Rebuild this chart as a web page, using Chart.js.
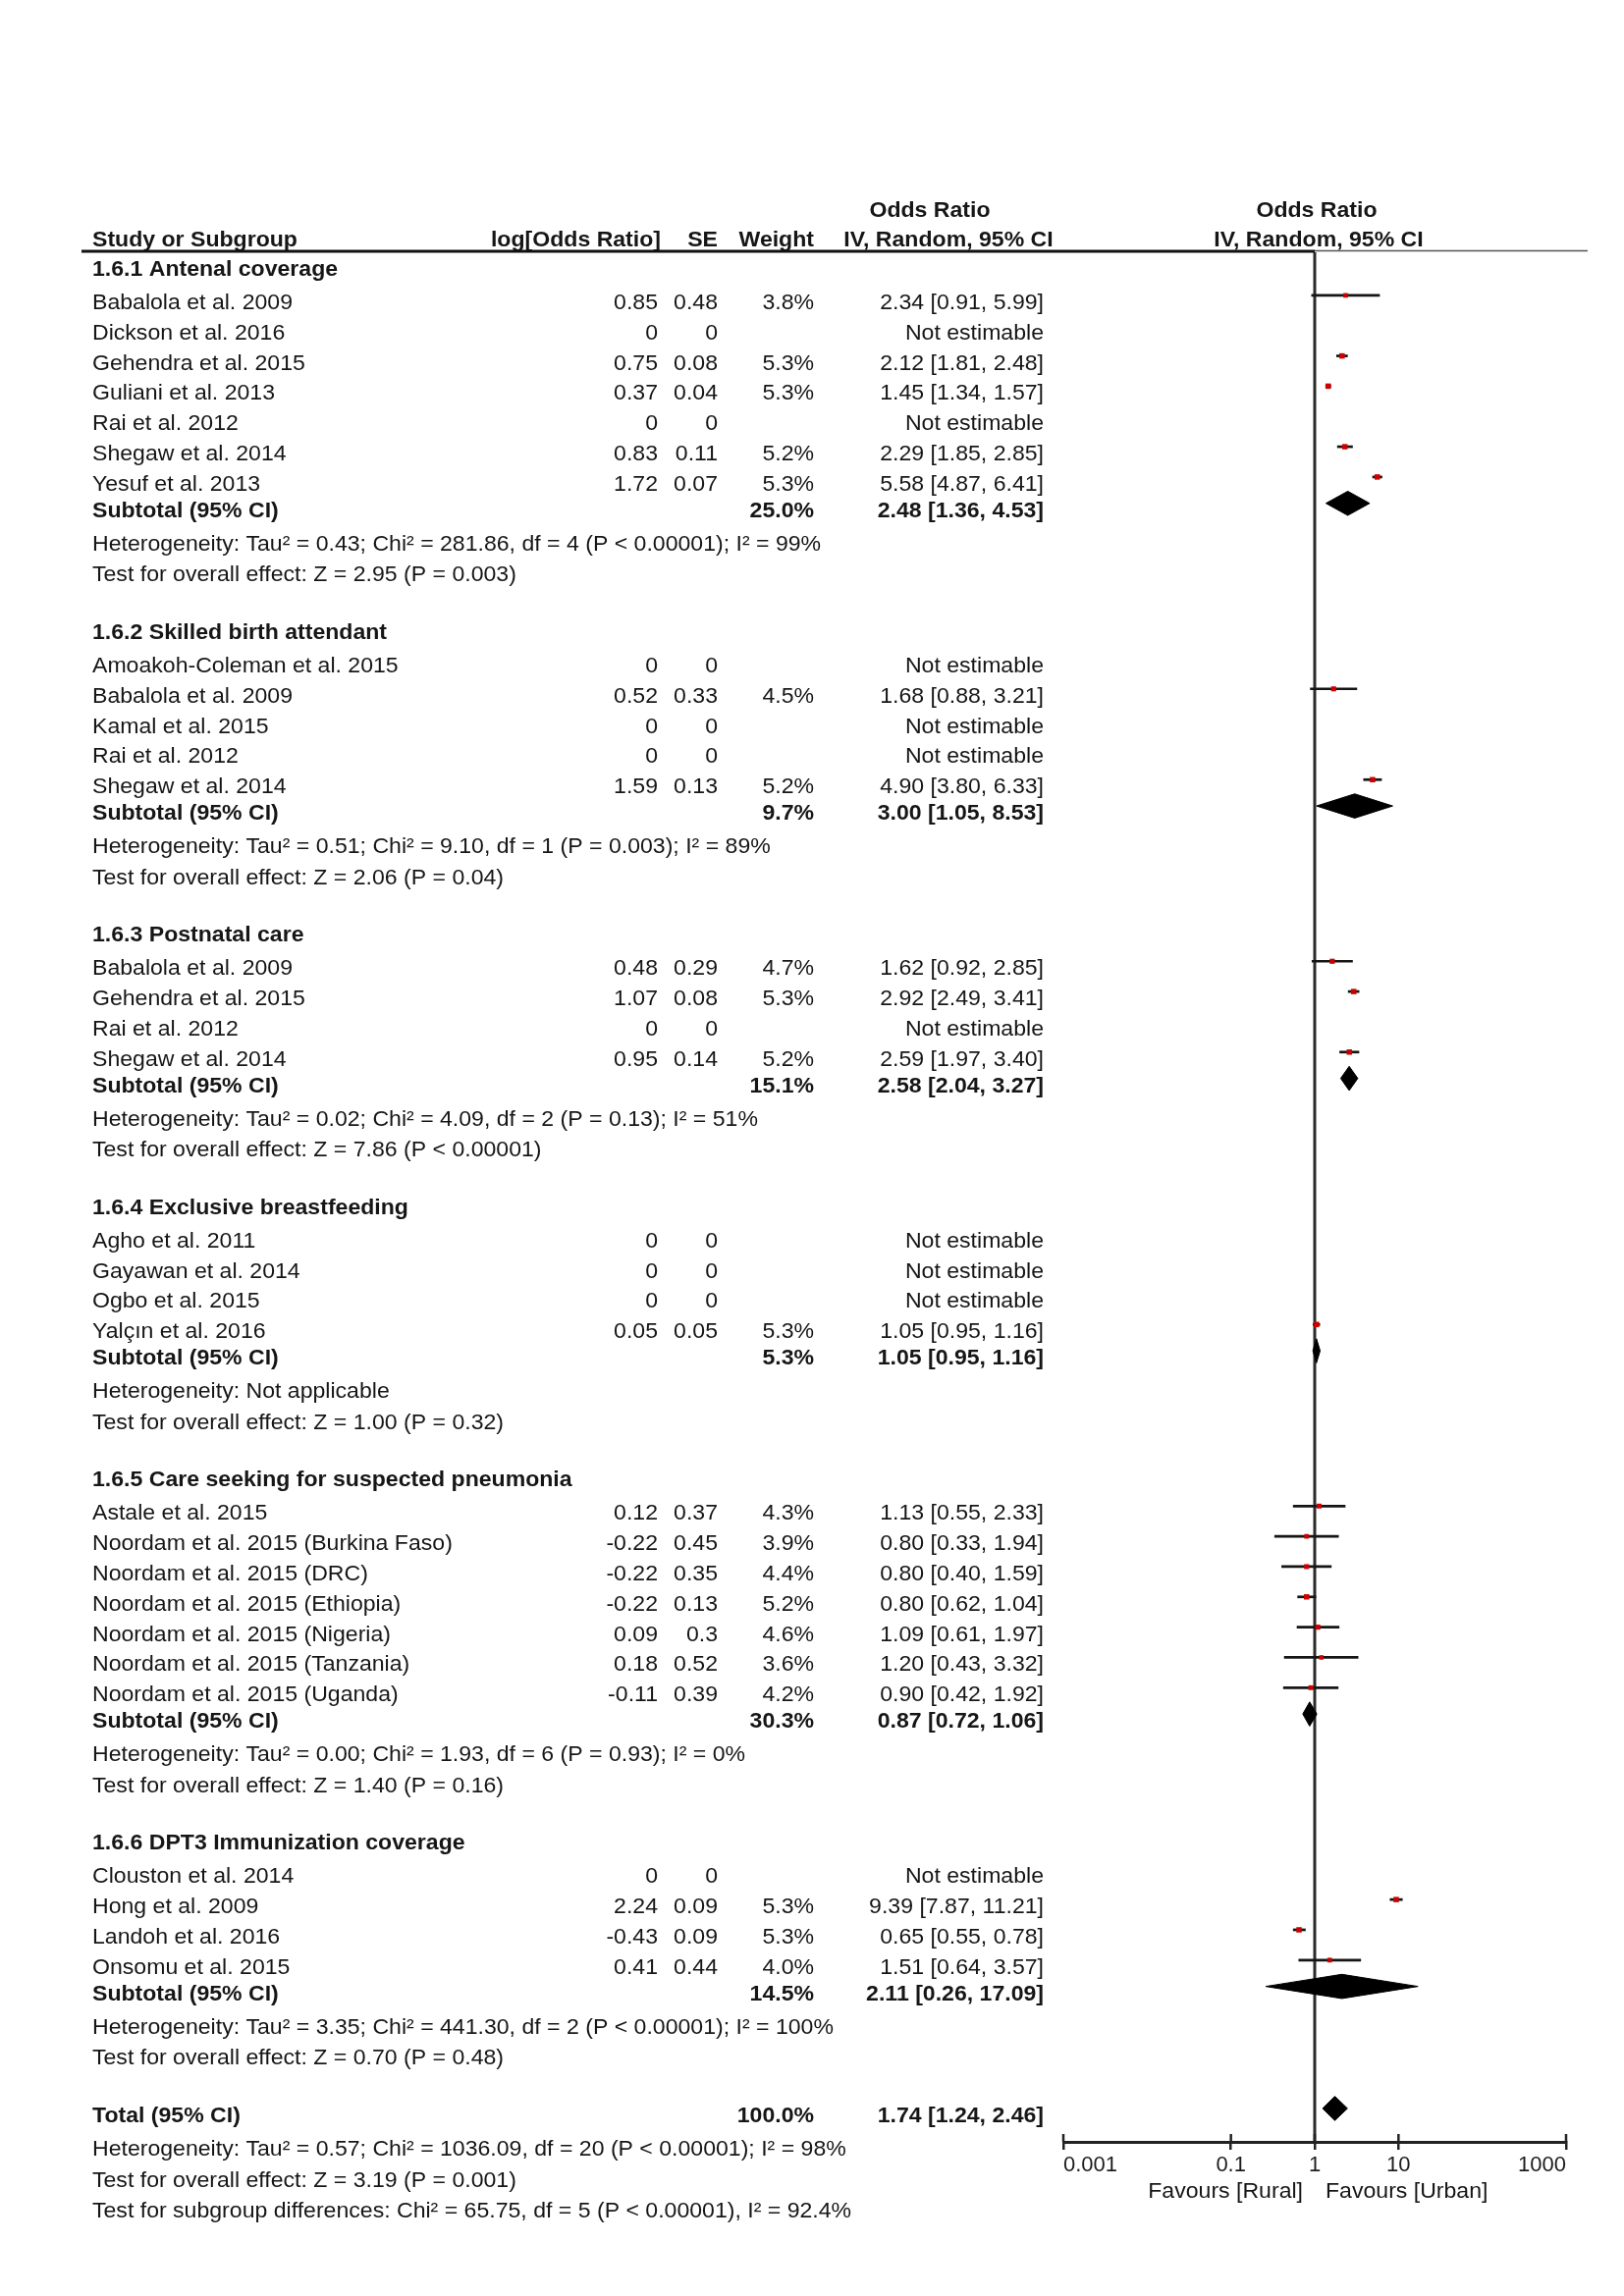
<!DOCTYPE html>
<html>
<head>
<meta charset="utf-8">
<script src="https://cdn.jsdelivr.net/npm/chart.js@4.4.1/dist/chart.umd.min.js"></script>
<style>
  html, body { margin: 0; padding: 0; background: #ffffff; }
  #c { display: block; width: 1654px; height: 2339px; }
</style>
</head>
<body>
<canvas id="c" width="1654" height="2339"></canvas>
<script>
// ---------------- DATA ----------------
const groupTitles = [
  '1.6.1 Antenal coverage',
  '1.6.2 Skilled birth attendant',
  '1.6.3 Postnatal care',
  '1.6.4 Exclusive breastfeeding',
  '1.6.5 Care seeking for suspected pneumonia',
  '1.6.6 DPT3 Immunization coverage'
];
const studyGroup = [0,0,0,0,0,0,0, 1,1,1,1,1, 2,2,2,2, 3,3,3,3, 4,4,4,4,4,4,4, 5,5,5,5];
const studyNames = [
  'Babalola et al. 2009','Dickson et al. 2016','Gehendra et al. 2015','Guliani et al. 2013','Rai et al. 2012','Shegaw et al. 2014','Yesuf et al. 2013',
  'Amoakoh-Coleman et al. 2015','Babalola et al. 2009','Kamal et al. 2015','Rai et al. 2012','Shegaw et al. 2014',
  'Babalola et al. 2009','Gehendra et al. 2015','Rai et al. 2012','Shegaw et al. 2014',
  'Agho et al. 2011','Gayawan et al. 2014','Ogbo et al. 2015','Yalçın et al. 2016',
  'Astale et al. 2015','Noordam et al. 2015 (Burkina Faso)','Noordam et al. 2015 (DRC)','Noordam et al. 2015 (Ethiopia)','Noordam et al. 2015 (Nigeria)','Noordam et al. 2015 (Tanzania)','Noordam et al. 2015 (Uganda)',
  'Clouston et al. 2014','Hong et al. 2009','Landoh et al. 2016','Onsomu et al. 2015'
];
const logOR = [0.85,0,0.75,0.37,0,0.83,1.72, 0,0.52,0,0,1.59, 0.48,1.07,0,0.95, 0,0,0,0.05, 0.12,-0.22,-0.22,-0.22,0.09,0.18,-0.11, 0,2.24,-0.43,0.41];
const seVals = [0.48,0,0.08,0.04,0,0.11,0.07, 0,0.33,0,0,0.13, 0.29,0.08,0,0.14, 0,0,0,0.05, 0.37,0.45,0.35,0.13,0.3,0.52,0.39, 0,0.09,0.09,0.44];
const weights = [3.8,null,5.3,5.3,null,5.2,5.3, null,4.5,null,null,5.2, 4.7,5.3,null,5.2, null,null,null,5.3, 4.3,3.9,4.4,5.2,4.6,3.6,4.2, null,5.3,5.3,4.0];
const orEst  = [2.34,null,2.12,1.45,null,2.29,5.58, null,1.68,null,null,4.90, 1.62,2.92,null,2.59, null,null,null,1.05, 1.13,0.80,0.80,0.80,1.09,1.20,0.90, null,9.39,0.65,1.51];
const orLow  = [0.91,null,1.81,1.34,null,1.85,4.87, null,0.88,null,null,3.80, 0.92,2.49,null,1.97, null,null,null,0.95, 0.55,0.33,0.40,0.62,0.61,0.43,0.42, null,7.87,0.55,0.64];
const orHigh = [5.99,null,2.48,1.57,null,2.85,6.41, null,3.21,null,null,6.33, 2.85,3.41,null,3.40, null,null,null,1.16, 2.33,1.94,1.59,1.04,1.97,3.32,1.92, null,11.21,0.78,3.57];

const subWeight = [25.0, 9.7, 15.1, 5.3, 30.3, 14.5];
const subEst  = [2.48, 3.00, 2.58, 1.05, 0.87, 2.11];
const subLow  = [1.36, 1.05, 2.04, 0.95, 0.72, 0.26];
const subHigh = [4.53, 8.53, 3.27, 1.16, 1.06, 17.09];
const subHet = [
  'Heterogeneity: Tau² = 0.43; Chi² = 281.86, df = 4 (P < 0.00001); I² = 99%',
  'Heterogeneity: Tau² = 0.51; Chi² = 9.10, df = 1 (P = 0.003); I² = 89%',
  'Heterogeneity: Tau² = 0.02; Chi² = 4.09, df = 2 (P = 0.13); I² = 51%',
  'Heterogeneity: Not applicable',
  'Heterogeneity: Tau² = 0.00; Chi² = 1.93, df = 6 (P = 0.93); I² = 0%',
  'Heterogeneity: Tau² = 3.35; Chi² = 441.30, df = 2 (P < 0.00001); I² = 100%'
];
const subTest = [
  'Test for overall effect: Z = 2.95 (P = 0.003)',
  'Test for overall effect: Z = 2.06 (P = 0.04)',
  'Test for overall effect: Z = 7.86 (P < 0.00001)',
  'Test for overall effect: Z = 1.00 (P = 0.32)',
  'Test for overall effect: Z = 1.40 (P = 0.16)',
  'Test for overall effect: Z = 0.70 (P = 0.48)'
];
const totalWeight = 100.0;
const totalEst = 1.74, totalLow = 1.24, totalHigh = 2.46;
const totalLines = [
  'Heterogeneity: Tau² = 0.57; Chi² = 1036.09, df = 20 (P < 0.00001); I² = 98%',
  'Test for overall effect: Z = 3.19 (P = 0.001)',
  'Test for subgroup differences: Chi² = 65.75, df = 5 (P < 0.00001), I² = 92.4%'
];
const tickValues = [0.001, 0.1, 1, 10, 1000];
const tickLabels = ['0.001', '0.1', '1', '10', '1000'];
const favourLeft = 'Favours [Rural]';
const favourRight = 'Favours [Urban]';

// ---------------- LAYOUT (row positions in row units) ----------------
const FIRST = 1.1, SUBSTEP = 0.87, HETSTEP = 1.1, TESTSTEP = 1.03, GAP = 1.9;
const headerV = [], studyV = [], subV = [], hetV = [], testV = [];
(function () {
  let v = 0, si = 0;
  for (let g = 0; g < groupTitles.length; g++) {
    headerV[g] = v;
    let cur = v + FIRST - 1;
    while (si < studyGroup.length && studyGroup[si] === g) { cur += 1; studyV[si] = cur; si++; }
    subV[g] = cur + SUBSTEP;
    hetV[g] = subV[g] + HETSTEP;
    testV[g] = hetV[g] + TESTSTEP;
    v = testV[g] + GAP;
  }
  window.totalV = v;
  window.totalLineV = [v + HETSTEP, v + HETSTEP + TESTSTEP, v + HETSTEP + 2 * TESTSTEP];
})();

// ---------------- DATASETS ----------------
const DIA = 0.4;
const datasets = [];
studyNames.forEach((n, i) => {
  if (orEst[i] == null) return;
  datasets.push({
    type: 'scatter', showLine: true, order: 2,
    data: [{ x: orLow[i], y: studyV[i] }, { x: orHigh[i], y: studyV[i] }],
    borderColor: '#151515', borderWidth: 2.7, pointRadius: 0, fill: false, tension: 0
  });
});
const sqData = [], sqRadius = [];
studyNames.forEach((n, i) => {
  if (orEst[i] == null) return;
  sqData.push({ x: orEst[i], y: studyV[i] });
  sqRadius.push(3.9 * Math.sqrt(weights[i] / 5.3));
});
datasets.push({
  type: 'scatter', order: 0, data: sqData, pointStyle: 'rect',
  pointRadius: sqRadius, pointBackgroundColor: '#CC0000', pointBorderWidth: 0, pointBorderColor: '#CC0000'
});
function diamond(est, lo, hi, v) {
  return {
    type: 'scatter', showLine: true, order: 1,
    data: [{ x: lo, y: v }, { x: est, y: v - DIA }, { x: hi, y: v }, { x: est, y: v + DIA }, { x: lo, y: v }],
    borderColor: '#000', borderWidth: 1, backgroundColor: '#000', fill: 'shape', pointRadius: 0, tension: 0
  };
}
for (let g = 0; g < groupTitles.length; g++) datasets.push(diamond(subEst[g], subLow[g], subHigh[g], subV[g]));
datasets.push(diamond(totalEst, totalLow, totalHigh, totalV));

// ---------------- TEXT ----------------
const FS = 22;
const FONTFAM = '"Liberation Sans", Arial, Helvetica, sans-serif';
let SX = 1;
function fnt(bold) { return (bold ? 'bold ' : '') + FS + 'px ' + FONTFAM; }
function txt(ctx, s, x, y, align, bold) {
  ctx.save();
  ctx.font = fnt(bold);
  ctx.fillStyle = '#161616';
  ctx.textAlign = align;
  ctx.textBaseline = 'alphabetic';
  ctx.translate(x, y);
  ctx.scale(SX, 1);
  ctx.fillText(s, 0, 0);
  ctx.restore();
}
const fmt2 = v => v.toFixed(2);
const ciText = (e, l, h) => fmt2(e) + ' [' + fmt2(l) + ', ' + fmt2(h) + ']';

const COL = { name: 94, lor: 670, se: 731, wt: 829, ci: 1063 };
const TXT_DY = 14;

const forestPlugin = {
  id: 'forest',
  beforeDatasetsDraw(chart) {
    const ctx = chart.ctx, x = chart.scales.x, a = chart.chartArea;
    const nx = x.getPixelForValue(1);
    ctx.save();
    ctx.strokeStyle = '#2a2a2a';
    ctx.lineWidth = 3;
    ctx.beginPath(); ctx.moveTo(nx, a.top); ctx.lineTo(nx, a.bottom); ctx.stroke();
    ctx.restore();
  },
  afterDraw(chart) {
    const ctx = chart.ctx, xs = chart.scales.x, ys = chart.scales.y, a = chart.chartArea;
    ctx.save();
    ctx.font = fnt(false);
    SX = 204 / ctx.measureText('Babalola et al. 2009').width;
    ctx.restore();
    const nx = xs.getPixelForValue(1);
    const Y = v => ys.getPixelForValue(v) + TXT_DY;

    // header
    const h1 = a.top - 36, h2 = a.top - 6;
    txt(ctx, 'Odds Ratio', 947, h1, 'center', true);
    txt(ctx, 'Odds Ratio', nx + 2, h1, 'center', true);
    txt(ctx, 'Study or Subgroup', COL.name, h2, 'left', true);
    txt(ctx, 'log[Odds Ratio]', 673, h2, 'right', true);
    txt(ctx, 'SE', COL.se, h2, 'right', true);
    txt(ctx, 'Weight', COL.wt, h2, 'right', true);
    txt(ctx, 'IV, Random, 95% CI', 966, h2, 'center', true);
    txt(ctx, 'IV, Random, 95% CI', nx + 4, h2, 'center', true);
    ctx.save();
    ctx.strokeStyle = '#111';
    ctx.lineWidth = 3;
    ctx.beginPath(); ctx.moveTo(83, a.top - 1); ctx.lineTo(nx, a.top - 1); ctx.stroke();
    ctx.strokeStyle = '#555';
    ctx.lineWidth = 1.5;
    ctx.beginPath(); ctx.moveTo(nx, a.top - 1.5); ctx.lineTo(1617, a.top - 1.5); ctx.stroke();
    ctx.restore();

    // groups
    for (let g = 0; g < groupTitles.length; g++) {
      txt(ctx, groupTitles[g], COL.name, Y(headerV[g]), 'left', true);
      studyNames.forEach((n, i) => {
        if (studyGroup[i] !== g) return;
        const y = Y(studyV[i]);
        txt(ctx, n, COL.name, y, 'left', false);
        txt(ctx, String(logOR[i]), COL.lor, y, 'right', false);
        txt(ctx, String(seVals[i]), COL.se, y, 'right', false);
        if (weights[i] != null) txt(ctx, weights[i].toFixed(1) + '%', COL.wt, y, 'right', false);
        txt(ctx, orEst[i] == null ? 'Not estimable' : ciText(orEst[i], orLow[i], orHigh[i]), COL.ci, y, 'right', false);
      });
      const ys2 = Y(subV[g]);
      txt(ctx, 'Subtotal (95% CI)', COL.name, ys2, 'left', true);
      txt(ctx, subWeight[g].toFixed(1) + '%', COL.wt, ys2, 'right', true);
      txt(ctx, ciText(subEst[g], subLow[g], subHigh[g]), COL.ci, ys2, 'right', true);
      txt(ctx, subHet[g], COL.name, Y(hetV[g]), 'left', false);
      txt(ctx, subTest[g], COL.name, Y(testV[g]), 'left', false);
    }
    const yt = Y(totalV);
    txt(ctx, 'Total (95% CI)', COL.name, yt, 'left', true);
    txt(ctx, totalWeight.toFixed(1) + '%', COL.wt, yt, 'right', true);
    txt(ctx, ciText(totalEst, totalLow, totalHigh), COL.ci, yt, 'right', true);
    totalLines.forEach((s, k) => txt(ctx, s, COL.name, Y(totalLineV[k]), 'left', false));

    // upward tick marks on the axis
    ctx.save();
    ctx.strokeStyle = '#222';
    ctx.lineWidth = 2.5;
    xs.ticks.forEach(t => {
      const px = xs.getPixelForValue(t.value);
      ctx.beginPath(); ctx.moveTo(px, a.bottom - 8); ctx.lineTo(px, a.bottom); ctx.stroke();
    });
    ctx.restore();

    // favours labels
    const fy = a.bottom + 57;
    txt(ctx, favourLeft, nx - 12, fy, 'right', false);
    txt(ctx, favourRight, nx + 11, fy, 'left', false);
  }
};

// ---------------- CHART ----------------
new Chart(document.getElementById('c'), {
  type: 'scatter',
  data: { datasets },
  options: {
    responsive: false,
    animation: false,
    devicePixelRatio: 1,
    layout: { padding: { left: 1083, right: 59, top: 257, bottom: 107 } },
    plugins: { legend: { display: false }, tooltip: { enabled: false } },
    scales: {
      x: {
        type: 'logarithmic',
        min: 0.001, max: 1000,
        afterBuildTicks: s => { s.ticks = tickValues.map(v => ({ value: v })); },
        afterFit: s => { s.height = 50; },
        ticks: {
          autoSkip: false, maxRotation: 0, align: 'inner', padding: 3,
          color: '#1c1c1c', font: { family: FONTFAM, size: 22 },
          callback: (val, idx) => tickLabels[idx]
        },
        grid: { display: true, drawOnChartArea: false, drawTicks: true, tickLength: 8, color: '#222', lineWidth: 2.5 },
        border: { display: true, color: '#222', width: 3 }
      },
      y: {
        type: 'linear', reverse: true, min: -0.324, max: 62.106, display: false
      }
    }
  },
  plugins: [forestPlugin]
});
</script>
</body>
</html>
